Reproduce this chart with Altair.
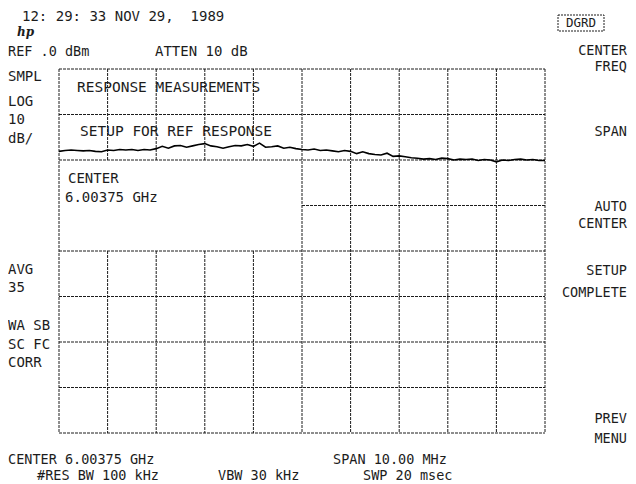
import altair as alt
import pandas as pd

# ---------------- data ----------------
center_mhz = 6003.75
span_mhz = 10.0
start_mhz = center_mhz - span_mhz / 2
stop_mhz = center_mhz + span_mhz / 2
ref_dbm = 0.0
db_per_div = 10.0

# vertical graticule lines (MHz) and horizontal graticule lines (dBm)
grid_freqs = [5998.75, 5999.75, 6000.75, 6001.75, 6002.75, 6003.75,
              6004.75, 6005.75, 6006.75, 6007.75, 6008.75]
grid_levels = [0, -10, -20, -30, -40, -50, -60, -70, -80]

trace_db = [
    -18.1, -17.9, -17.8, -17.9, -18.0, -17.9, -18.1, -18.2, -17.8, -17.9,
    -17.7, -17.8, -17.7, -17.9, -17.7, -17.8, -17.5, -17.0, -17.4, -16.9,
    -16.8, -17.2, -16.9, -16.6, -16.4, -16.9, -17.1, -17.4, -17.1, -16.8,
    -16.9, -16.6, -17.0, -16.3, -17.2, -17.1, -16.9, -17.4, -17.2, -17.5,
    -17.7, -17.8, -17.6, -17.9, -17.8, -18.0, -18.2, -17.9, -18.1, -18.6,
    -18.2, -18.6, -18.8, -18.9, -18.5, -19.2, -19.1, -19.3, -19.5, -19.6,
    -19.8, -19.7, -19.9, -19.6, -19.7, -20.0, -19.8, -19.9, -19.8, -20.1,
    -19.9, -20.0, -20.4, -20.0, -20.1, -19.9, -19.8, -20.0, -19.9, -20.1,
    -20.1,
]
trace_freq = [start_mhz + span_mhz * i / (len(trace_db) - 1) for i in range(len(trace_db))]

# ---------------- tables ----------------
trace_df = pd.DataFrame({"f": trace_freq, "dbm": trace_db})

# graticule segments (the "CENTER" info box hides part of the grid)
box_f = (grid_freqs[0], grid_freqs[5])
box_db = (grid_levels[2], grid_levels[4])
vseg = []
for i, f in enumerate(grid_freqs):
    if 1 <= i <= 4:
        vseg.append({"f": f, "y1": grid_levels[0], "y2": box_db[0]})
        vseg.append({"f": f, "y1": box_db[1], "y2": grid_levels[-1]})
    else:
        vseg.append({"f": f, "y1": grid_levels[0], "y2": grid_levels[-1]})
hseg = []
for j, lv in enumerate(grid_levels):
    if j == 3:
        hseg.append({"dbm": lv, "x1": box_f[1], "x2": grid_freqs[-1]})
    else:
        hseg.append({"dbm": lv, "x1": grid_freqs[0], "x2": grid_freqs[-1]})
vseg_df = pd.DataFrame(vseg)
hseg_df = pd.DataFrame(hseg)

W, H = 486, 364
xscale = alt.Scale(domain=[start_mhz, stop_mhz], nice=False, zero=False)
yscale = alt.Scale(domain=[grid_levels[-1], grid_levels[0]], nice=False, zero=False)

INK = "#1c1c1c"
FONT = "DejaVu Sans Mono"
FS = 13.5
FS2 = 14
NB = "\u00a0"

vgrid = alt.Chart(vseg_df).mark_rule(color=INK, strokeWidth=1, strokeDash=[3, 1]).encode(
    x=alt.X("f:Q", scale=xscale, axis=None),
    y=alt.Y("y1:Q", scale=yscale, axis=None),
    y2="y2:Q",
)
hgrid = alt.Chart(hseg_df).mark_rule(color=INK, strokeWidth=1, strokeDash=[3, 1]).encode(
    y=alt.Y("dbm:Q", scale=yscale, axis=None),
    x=alt.X("x1:Q", scale=xscale, axis=None),
    x2="x2:Q",
)
trace = alt.Chart(trace_df).mark_line(color="#000000", strokeWidth=1.6, interpolate="linear").encode(
    x=alt.X("f:Q", scale=xscale, axis=None),
    y=alt.Y("dbm:Q", scale=yscale, axis=None),
)


def txt(s, x, y, align="left", size=FS, font=FONT, style="normal", weight="normal"):
    return alt.Chart(pd.DataFrame({"t": [s]})).mark_text(
        align=align, baseline="middle", font=font, fontSize=size, color=INK,
        fontStyle=style, fontWeight=weight,
    ).encode(x=alt.value(x), y=alt.value(y), text="t:N")


# page coords -> plot coords: x - 59, y - 69
RX = 568
SK = 13.5
texts = [
    txt(f"12:{NB}29:{NB}33 NOV 29,{NB}{NB}1989", -37, -52, size=FS2),
    txt("hp", -42, -37, size=12, font="DejaVu Serif", style="italic", weight="bold"),
    txt("REF .0 dBm", -51, -17),
    txt(f"ATTEN{NB}10{NB}dB", 96, -17, size=FS2),
    txt("DGRD", 522, -46, align="center", size=12.5),
    # softkeys
    txt("CENTER", RX, -18, align="right", size=SK),
    txt("FREQ", RX, -2, align="right", size=SK),
    txt("SPAN", RX, 63, align="right", size=SK),
    txt("AUTO", RX, 138, align="right", size=SK),
    txt("CENTER", RX, 155, align="right", size=SK),
    txt("SETUP", RX, 202, align="right", size=SK),
    txt("COMPLETE", RX, 224, align="right", size=SK),
    txt("PREV", RX, 350, align="right", size=SK),
    txt("MENU", RX, 370, align="right", size=SK),
    # left annotations
    txt("SMPL", -51, 8, size=FS2),
    txt("LOG", -51, 33, size=FS2),
    txt("10", -51, 51, size=FS2),
    txt("dB/", -51, 70, size=FS2),
    txt("AVG", -51, 201, size=FS2),
    txt("35", -51, 219, size=FS2),
    txt("WA SB", -51, 257, size=FS2),
    txt("SC FC", -51, 276, size=FS2),
    txt("CORR", -51, 294, size=FS2),
    # in-graticule messages
    txt("RESPONSE MEASUREMENTS", 18, 19, size=14.5),
    txt("SETUP FOR REF RESPONSE", 21, 63, size=14.5),
    txt("CENTER", 9, 110, size=FS2),
    txt("6.00375 GHz", 6, 129, size=FS2),
    # bottom annotations
    txt("CENTER 6.00375 GHz", -51, 391),
    txt("SPAN 10.00 MHz", 274, 391),
    txt("#RES BW 100 kHz", -22, 407),
    txt("VBW 30 kHz", 159, 407),
    txt("SWP 20 msec", 304, 407),
]

dgrd_box = alt.Chart(pd.DataFrame({"t": ["DGRD"]})).mark_rect(
    fill="white", stroke=INK, strokeWidth=1, strokeDash=[2, 1]
).encode(x=alt.value(499), x2=alt.value(545), y=alt.value(-54), y2=alt.value(-38))

chart = alt.layer(vgrid, hgrid, trace, dgrd_box, *texts).properties(
    width=W, height=H,
    autosize=alt.AutoSizeParams(type="none"),
    padding={"left": 51, "top": 61, "right": 83, "bottom": 50},
    background="white",
).configure_view(stroke=None)

chart.save("out.html", embed_options={"renderer": "svg", "actions": False})
